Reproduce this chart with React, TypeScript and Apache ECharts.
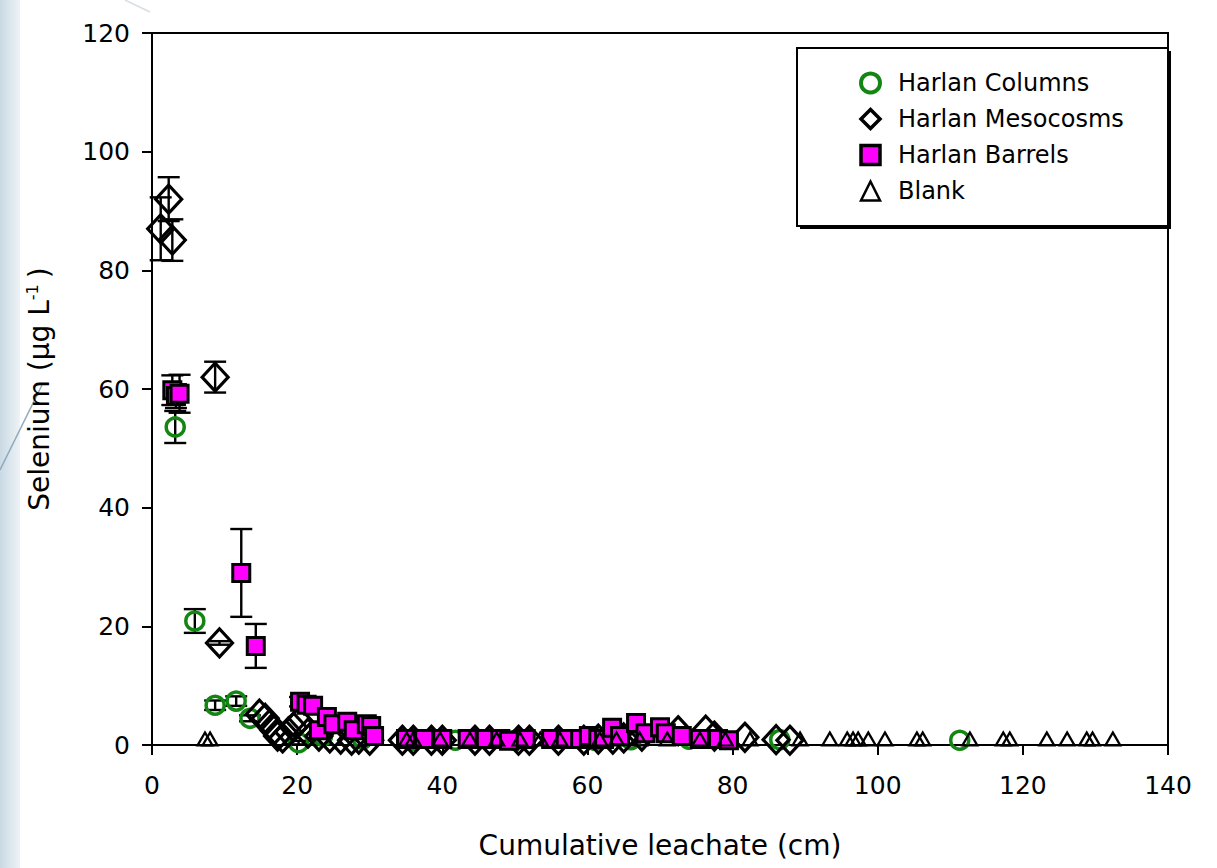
import React, { useEffect, useRef } from "react";
import * as echarts from "echarts";

// Harlan Columns
const colX = [3.2, 5.9, 8.7, 11.6, 13.5, 20.2, 23.5, 29.0, 36.0, 41.8, 50.0, 61.0, 66.0, 74.0, 86.5, 111.3];
const colY = [53.6, 20.9, 6.7, 7.4, 4.5, 0.4, 1.5, 1.0, 0.8, 0.8, 0.8, 0.8, 0.9, 1.0, 0.9, 0.8];
const colErr = [2.7, 2.0, 0.8, 0.8, 0.5, 0.3, 0, 0, 0, 0, 0, 0, 0, 0, 0, 0];

// Harlan Mesocosms
const mesX = [1.2, 2.3, 2.8, 8.7, 9.3, 14.8, 15.6, 16.2, 16.8, 17.3, 18.0, 18.8, 19.5, 20.3, 21.5, 23.0, 24.5, 26.0, 27.5, 28.5, 30.0, 34.5, 36.0, 38.5, 40.0, 44.5, 46.5, 50.5, 52.0, 56.0, 59.5, 61.5, 63.5, 65.0, 67.5, 72.5, 76.3, 77.5, 81.7, 86.0, 87.9];
const mesY = [87.0, 92.0, 85.1, 62.0, 17.2, 5.2, 4.5, 3.5, 2.5, 1.5, 1.2, 2.2, 3.0, 4.0, 2.0, 1.5, 1.2, 1.0, 0.8, 1.0, 0.8, 0.8, 0.8, 0.8, 0.8, 0.8, 0.8, 0.8, 0.8, 0.8, 0.8, 1.0, 1.0, 1.2, 1.5, 2.4, 2.5, 1.5, 1.3, 0.9, 0.8];
const mesErr = [5.3, 3.7, 3.5, 2.6, 0.3, 0, 0, 0, 0, 0, 0, 0, 0, 0, 0, 0, 0, 0, 0, 0, 0, 0, 0, 0, 0, 0, 0, 0, 0, 0, 0, 0, 0, 0, 0, 0, 0, 0, 0, 0, 0];

// Harlan Barrels
const barX = [2.8, 3.3, 3.8, 12.3, 14.3, 20.4, 21.3, 22.2, 23.0, 24.1, 25.0, 26.9, 27.8, 29.6, 30.2, 30.6, 35.0, 37.5, 40.0, 43.5, 46.0, 48.0, 49.2, 51.5, 55.0, 57.0, 59.0, 60.2, 61.5, 62.3, 63.4, 64.5, 66.7, 68.0, 70.0, 70.8, 73.0, 75.5, 78.0, 79.5];
const barY = [59.8, 58.8, 59.2, 29.0, 16.7, 7.3, 6.8, 6.6, 2.5, 4.7, 3.5, 3.9, 2.5, 3.5, 3.2, 1.5, 1.0, 1.0, 1.0, 1.0, 1.0, 1.0, 0.7, 1.0, 1.0, 1.0, 1.0, 1.5, 1.0, 1.0, 2.9, 1.5, 3.7, 2.0, 3.0, 2.0, 1.5, 1.0, 1.0, 0.8];
const barErr = [2.5, 2.0, 3.2, 7.4, 3.7, 0.8, 0, 0, 0, 0, 0, 0, 0, 0, 0, 0, 0, 0, 0, 0, 0, 0, 0, 0, 0, 0, 0, 0, 0, 0, 0, 0, 0, 0, 0, 0, 0, 0, 0, 0];

// Blank
const blkX = [7.3, 8.0, 35.1, 36.0, 39.7, 43.8, 47.5, 50.7, 53.5, 56.2, 61.7, 64.0, 67.2, 71.0, 75.5, 79.0, 82.4, 89.3, 93.4, 95.8, 96.6, 97.3, 98.7, 101.0, 105.4, 106.2, 112.7, 117.3, 118.2, 123.3, 126.1, 128.8, 129.6, 132.4];
const blkY = [1.0, 1.0, 1.0, 1.0, 1.0, 1.0, 1.0, 1.0, 1.0, 1.0, 1.0, 1.0, 1.0, 1.0, 1.0, 1.0, 1.0, 1.0, 1.0, 1.0, 1.0, 1.0, 1.0, 1.0, 1.0, 1.0, 1.0, 1.0, 1.0, 1.0, 1.0, 1.0, 1.0, 1.0];

const seriesNames = ["Harlan Columns", "Harlan Mesocosms", "Harlan Barrels", "Blank"];

const FONT = "DejaVu Sans";

function pairs(xs: number[], ys: number[]) {
  return xs.map((x, i) => [x, ys[i]]);
}
function triples(xs: number[], ys: number[], es: number[]) {
  return xs.map((x, i) => [x, ys[i], es[i]]).filter((d) => d[2] > 0);
}

function errorSeries(data: number[][]) {
  return {
    type: "custom",
    silent: true,
    z: 1,
    data,
    encode: { x: 0, y: 1 },
    renderItem: (params: any, api: any) => {
      const x = api.value(0);
      const y = api.value(1);
      const e = api.value(2);
      const top = api.coord([x, y + e]);
      const bot = api.coord([x, y - e]);
      const hw = 11;
      const style = { stroke: "#000", lineWidth: 2.4 };
      return {
        type: "group",
        children: [
          { type: "line", shape: { x1: top[0], y1: top[1], x2: bot[0], y2: bot[1] }, style },
          { type: "line", shape: { x1: top[0] - hw, y1: top[1], x2: top[0] + hw, y2: top[1] }, style },
          { type: "line", shape: { x1: bot[0] - hw, y1: bot[1], x2: bot[0] + hw, y2: bot[1] }, style },
        ],
      };
    },
  };
}

export default function App() {
  const ref = useRef<HTMLDivElement>(null);
  useEffect(() => {
    if (!ref.current) return;
    const chart = echarts.init(ref.current, null, { renderer: "svg" });
    const option: any = {
      animation: false,
      backgroundColor: "#ffffff",
      graphic: [
        {
          type: "rect",
          z: -10,
          shape: { x: 0, y: 0, width: 20, height: 868 },
          style: {
            fill: new echarts.graphic.LinearGradient(0, 0, 1, 0, [
              { offset: 0, color: "#c9d9e3" },
              { offset: 1, color: "#eef3f6" },
            ]),
          },
        },
        {
          type: "line",
          z: -10,
          shape: { x1: 0, y1: 470, x2: 42, y2: 385 },
          style: { stroke: "#8fa9bb", lineWidth: 1.5 },
        },
        {
          type: "line",
          z: -10,
          shape: { x1: 125, y1: 0, x2: 150, y2: 12 },
          style: { stroke: "#d5dfe6", lineWidth: 1.5 },
        },
        {
          type: "rect",
          z: 5,
          shape: { x: 800, y: 51, width: 371, height: 178 },
          style: { fill: "#000" },
        },
        {
          type: "rect",
          z: 6,
          shape: { x: 797, y: 48, width: 371, height: 178 },
          style: { fill: "#fff", stroke: "#000", lineWidth: 2 },
        },
      ],
      grid: {
        left: 152,
        right: 49,
        top: 33,
        bottom: 123,
        show: true,
        borderColor: "#000",
        borderWidth: 2,
        backgroundColor: "transparent",
      },
      legend: {
        z: 10,
        orient: "vertical",
        left: 859,
        top: 71,
        padding: 0,
        itemGap: 12,
        itemWidth: 19,
        itemHeight: 19,
        selectedMode: false,
        textStyle: { fontFamily: FONT, fontSize: 24, color: "#000", lineHeight: 24, padding: [0, 0, 0, 13] },
        data: [
          { name: seriesNames[0], icon: "circle", itemStyle: { borderWidth: 4 } },
          { name: seriesNames[1], icon: "diamond", itemStyle: { borderWidth: 3.5 } },
          { name: seriesNames[2], icon: "rect", itemStyle: { borderWidth: 3.5 } },
          { name: seriesNames[3], icon: "triangle", itemStyle: { borderWidth: 2.5 } },
        ],
      },
      xAxis: {
        type: "value",
        min: 0,
        max: 140,
        interval: 20,
        name: "Cumulative leachate (cm)",
        nameLocation: "middle",
        nameGap: 86,
        nameTextStyle: { fontFamily: FONT, fontSize: 28, color: "#000" },
        axisLine: { show: true, lineStyle: { color: "#000", width: 2 } },
        axisTick: { show: true, length: 10, lineStyle: { color: "#000", width: 2 } },
        axisLabel: { margin: 28, fontFamily: FONT, fontSize: 25, color: "#000" },
        splitLine: { show: false },
      },
      yAxis: {
        type: "value",
        min: 0,
        max: 120,
        interval: 20,
        name: "Selenium (µg L{sup|-1})",
        nameLocation: "middle",
        nameGap: 98,
        nameTextStyle: {
          fontFamily: FONT,
          fontSize: 28,
          color: "#000",
          rich: {
            sup: { fontFamily: FONT, fontSize: 16, color: "#000", verticalAlign: "top", padding: [0, 6, 14, 0] },
          },
        },
        axisLine: { show: true, lineStyle: { color: "#000", width: 2 } },
        axisTick: { show: true, length: 10, lineStyle: { color: "#000", width: 2 } },
        axisLabel: { margin: 22, fontFamily: FONT, fontSize: 25, color: "#000" },
        splitLine: { show: false },
      },
      series: [
        errorSeries(triples(colX, colY, colErr)),
        errorSeries(triples(mesX, mesY, mesErr)),
        errorSeries(triples(barX, barY, barErr)),
        {
          name: seriesNames[0],
          type: "scatter",
          z: 2,
          symbol: "circle",
          symbolSize: 18,
          data: pairs(colX, colY),
          itemStyle: { color: "rgba(0,0,0,0)", borderColor: "#138513", borderWidth: 3.5, opacity: 1 },
        },
        {
          name: seriesNames[1],
          type: "scatter",
          z: 3,
          symbol: "diamond",
          symbolSize: [26, 28],
          data: pairs(mesX, mesY),
          itemStyle: { color: "rgba(0,0,0,0)", borderColor: "#000", borderWidth: 3.2, opacity: 1 },
        },
        {
          name: seriesNames[2],
          type: "scatter",
          z: 4,
          symbol: "rect",
          symbolSize: 17,
          data: pairs(barX, barY),
          itemStyle: { color: "#ff00ff", borderColor: "#000", borderWidth: 3, opacity: 1 },
        },
        {
          name: seriesNames[3],
          type: "scatter",
          z: 4,
          symbol: "triangle",
          symbolSize: [15, 13],
          data: pairs(blkX, blkY),
          itemStyle: { color: "rgba(0,0,0,0)", borderColor: "#000", borderWidth: 2.2, opacity: 1 },
        },
      ],
    };
    chart.setOption(option);
    return () => chart.dispose();
  }, []);
  return (
    <div
      ref={ref}
      style={{ position: "absolute", left: 0, top: 0, width: 1217, height: 868 }}
    />
  );
}
